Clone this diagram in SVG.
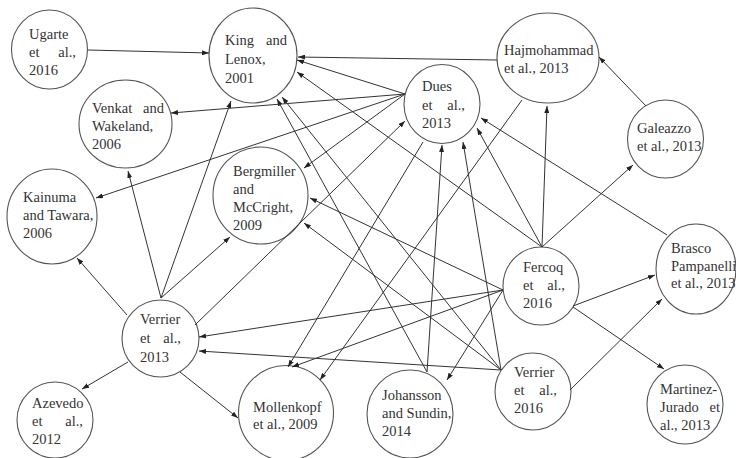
<svg xmlns="http://www.w3.org/2000/svg" width="736" height="458" viewBox="0 0 736 458">
<style>
.n ellipse{fill:#fff;stroke:#555;stroke-width:1.1}
.n text{font-family:"Liberation Serif",serif;font-size:14.5px;fill:#333}
.n text.r{text-anchor:end}
#edges line{stroke:#333;stroke-width:1;marker-end:url(#ah)}
</style>
<defs>
<marker id="ah" markerUnits="userSpaceOnUse" markerWidth="7" markerHeight="5" refX="7" refY="2.5" orient="auto">
<path d="M0,0 L7,2.5 L0,5 z" fill="#222"/>
</marker>
</defs>
<rect width="736" height="458" fill="#fff"/>
<g id="nodes">
<g class="n" id="ugarte"><ellipse cx="49.5" cy="49.5" rx="38" ry="39.5"/><text x="29" y="39">Ugarte</text><text x="29" y="57">et</text><text class="r" x="76" y="57">al.,</text><text x="29" y="75">2016</text></g>
<g class="n" id="king"><ellipse cx="253" cy="55.5" rx="44" ry="47.5"/><text x="225" y="45">King</text><text class="r" x="287" y="45">and</text><text x="225" y="64">Lenox,</text><text x="225" y="83">2001</text></g>
<g class="n" id="dues"><ellipse cx="442" cy="104" rx="38" ry="39.5"/><text x="422" y="91">Dues</text><text x="422" y="109.5">et</text><text class="r" x="465" y="109.5">al.,</text><text x="422" y="128">2013</text></g>
<g class="n" id="hajmohammad"><ellipse cx="548" cy="58" rx="51" ry="45"/><text x="504" y="55">Hajmohammad</text><text x="504" y="73">et al., 2013</text></g>
<g class="n" id="galeazzo"><ellipse cx="665.5" cy="139" rx="38" ry="39"/><text x="637" y="133">Galeazzo</text><text x="637" y="151">et al., 2013</text></g>
<g class="n" id="venkat"><ellipse cx="125.5" cy="124" rx="46.5" ry="44"/><text x="92" y="113">Venkat</text><text class="r" x="164" y="113">and</text><text x="92" y="131">Wakeland,</text><text x="92" y="149">2006</text></g>
<g class="n" id="kainuma"><ellipse cx="52" cy="216.5" rx="45" ry="47.5"/><text x="23" y="202">Kainuma</text><text x="23" y="220">and Tawara,</text><text x="23" y="238">2006</text></g>
<g class="n" id="bergmiller"><ellipse cx="260.5" cy="195.5" rx="47.5" ry="48.5"/><text x="233" y="176">Bergmiller</text><text x="233" y="194">and</text><text x="233" y="212">McCright,</text><text x="233" y="230">2009</text></g>
<g class="n" id="verrier2013"><ellipse cx="160.5" cy="338.5" rx="38.5" ry="38.5"/><text x="140" y="324">Verrier</text><text x="140" y="343">et</text><text class="r" x="181" y="343">al.,</text><text x="140" y="362">2013</text></g>
<g class="n" id="azevedo"><ellipse cx="55" cy="420" rx="38" ry="38"/><text x="32" y="408">Azevedo</text><text x="32" y="426">et</text><text class="r" x="83" y="426">al.,</text><text x="32" y="444">2012</text></g>
<g class="n" id="mollenkopf"><ellipse cx="286" cy="413" rx="47.5" ry="47.5"/><text x="253" y="412">Mollenkopf</text><text x="253" y="429">et al., 2009</text></g>
<g class="n" id="johansson"><ellipse cx="410" cy="414" rx="43" ry="44"/><text x="382" y="400">Johansson</text><text x="382" y="418">and Sundin,</text><text x="382" y="436">2014</text></g>
<g class="n" id="verrier2016"><ellipse cx="533" cy="391.5" rx="38" ry="38.5"/><text x="514" y="377">Verrier</text><text x="514" y="395">et</text><text class="r" x="557" y="395">al.,</text><text x="514" y="413">2016</text></g>
<g class="n" id="martinez"><ellipse cx="685" cy="404.5" rx="38" ry="39.5"/><text x="660" y="394">Martinez-</text><text x="660" y="412">Jurado</text><text class="r" x="720" y="412">et</text><text x="660" y="430">al., 2013</text></g>
<g class="n" id="fercoq"><ellipse cx="541" cy="286" rx="38" ry="39"/><text x="523" y="272">Fercoq</text><text x="523" y="290">et</text><text class="r" x="565" y="290">al.,</text><text x="523" y="308">2016</text></g>
<g class="n" id="brasco"><ellipse cx="696" cy="269" rx="40" ry="45"/><text x="671" y="253">Brasco</text><text x="671" y="271">Pampanelli</text><text x="671" y="288">et al., 2013</text></g>
</g>
<g id="edges">
<line x1="88" y1="50" x2="209" y2="53"/>
<line x1="497" y1="60" x2="298" y2="57"/>
<line x1="405" y1="94" x2="297" y2="60"/>
<line x1="542" y1="247" x2="297" y2="72"/>
<line x1="501" y1="370" x2="282" y2="97"/>
<line x1="427" y1="372" x2="277" y2="99"/>
<line x1="161" y1="298" x2="231" y2="101"/>
<line x1="405" y1="94" x2="171" y2="113"/>
<line x1="405" y1="94" x2="96" y2="198"/>
<line x1="405" y1="94" x2="304" y2="168"/>
<line x1="423" y1="142" x2="288" y2="367"/>
<line x1="522" y1="100" x2="320" y2="380"/>
<line x1="503" y1="290" x2="292" y2="367"/>
<line x1="180" y1="372" x2="238" y2="418"/>
<line x1="646" y1="106" x2="599" y2="57"/>
<line x1="542" y1="247" x2="547" y2="106"/>
<line x1="542" y1="247" x2="633" y2="165"/>
<line x1="542" y1="247" x2="477" y2="128"/>
<line x1="667" y1="235" x2="481" y2="118"/>
<line x1="501" y1="370" x2="463" y2="142"/>
<line x1="427" y1="372" x2="442" y2="145"/>
<line x1="195" y1="325" x2="405" y2="121"/>
<line x1="503" y1="290" x2="310" y2="198"/>
<line x1="501" y1="370" x2="304" y2="223"/>
<line x1="161" y1="298" x2="230" y2="237"/>
<line x1="503" y1="290" x2="199" y2="337"/>
<line x1="501" y1="370" x2="199" y2="351"/>
<line x1="503" y1="290" x2="447" y2="380"/>
<line x1="573" y1="306" x2="655" y2="275"/>
<line x1="573" y1="307" x2="664" y2="369"/>
<line x1="570" y1="390" x2="662" y2="299"/>
<line x1="161" y1="298" x2="128" y2="171"/>
<line x1="127" y1="315" x2="77" y2="258"/>
<line x1="128" y1="362" x2="82" y2="389"/>
</g>
</svg>
